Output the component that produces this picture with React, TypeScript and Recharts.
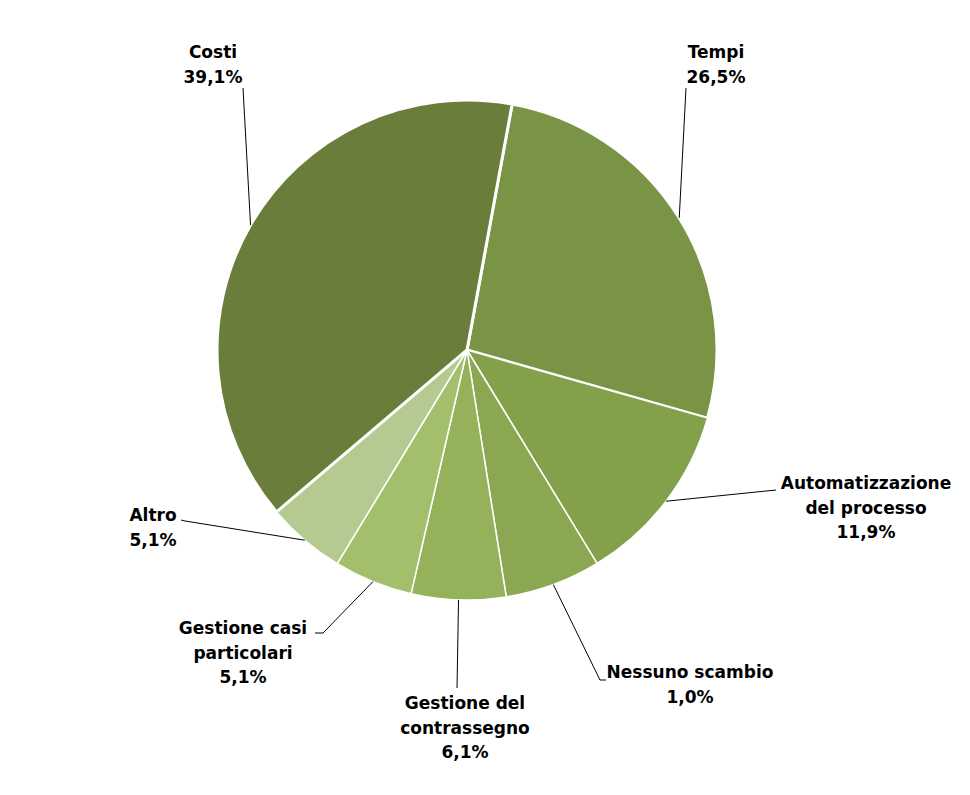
import React from 'react';
import { PieChart, Pie, Cell } from 'recharts';

// clockwise from Tempi, as drawn
const categories = [
  ['Tempi'],
  ['Automatizzazione', 'del processo'],
  ['Nessuno scambio'],
  ['Gestione del', 'contrassegno'],
  ['Gestione casi', 'particolari'],
  ['Altro'],
  ['Costi'],
];
// slice sizes as drawn in the original
const shares = [26.5, 11.9, 6.2, 6.1, 5.1, 5.1, 39.1];
// percentages as printed on the labels
const printedPct = ['26,5%', '11,9%', '1,0%', '6,1%', '5,1%', '5,1%', '39,1%'];

const COLORS = ['#7a9445', '#83a04b', '#8aa852', '#93b25a', '#a2bf6c', '#b5ca90', '#6a7d3a'];
const STROKES = [3, 1.5, 1.5, 1.5, 1.5, 1.5, 3];

// label placement, offsets from the pie centre: leader end, optional elbow, text centre
const LABEL_LAYOUT = [
  { end: [219, -262], tx: 249, ty: -298 },
  { end: [309, 140], tx: 399, ty: 133 },
  { end: [133, 330], elbow: [139, 330], tx: 223, ty: 322 },
  { end: [-10, 338], tx: -2, ty: 353 },
  { end: [-144, 283], elbow: [-152, 283], tx: -224, ty: 278 },
  { end: [-282, 171], elbow: [-286, 170], tx: -314, ty: 165 },
  { end: [-224, -262], tx: -254, ty: -298 },
];

const data = categories.map((lines, i) => ({ name: lines.join(' '), value: shares[i] }));

const RADIAN = Math.PI / 180;
const LINE_H = 24.5;

const renderLabel = (props: any) => {
  const { cx, cy, midAngle, outerRadius, index } = props;
  const lay = LABEL_LAYOUT[index];
  const sx = cx + outerRadius * Math.cos(-midAngle * RADIAN);
  const sy = cy + outerRadius * Math.sin(-midAngle * RADIAN);
  const pts = [[sx, sy], [cx + lay.end[0], cy + lay.end[1]]];
  if (lay.elbow) pts.push([cx + lay.elbow[0], cy + lay.elbow[1]]);
  const lines = [...categories[index], printedPct[index]];
  return (
    <g key={`lbl-${index}`}>
      <polyline points={pts.map(p => p.join(',')).join(' ')} fill="none" stroke="#000" strokeWidth={1} />
      <text
        x={cx + lay.tx}
        y={cy + lay.ty}
        textAnchor="middle"
        fontFamily="DejaVu Sans, Verdana, sans-serif"
        fontWeight="bold"
        fontSize={17}
        fill="#000"
      >
        {lines.map((l, i) => (
          <tspan key={i} x={cx + lay.tx} y={cy + lay.ty + i * LINE_H} dominantBaseline="central">{l}</tspan>
        ))}
      </text>
    </g>
  );
};

export default function App() {
  return (
    <div style={{ position: 'absolute', left: 0, top: 0, background: '#fff' }}>
      <PieChart width={970} height={795} margin={{ top: 0, right: 0, bottom: 0, left: 0 }}>
        <Pie
          data={data}
          dataKey="value"
          nameKey="name"
          cx={467}
          cy={350}
          outerRadius={250}
          startAngle={79.6}
          endAngle={-280.4}
          label={renderLabel}
          labelLine={false}
          isAnimationActive={false}
        >
          {data.map((entry, index) => (
            <Cell key={`cell-${index}`} fill={COLORS[index]} stroke="#fff" strokeWidth={STROKES[index]} />
          ))}
        </Pie>
      </PieChart>
    </div>
  );
}
